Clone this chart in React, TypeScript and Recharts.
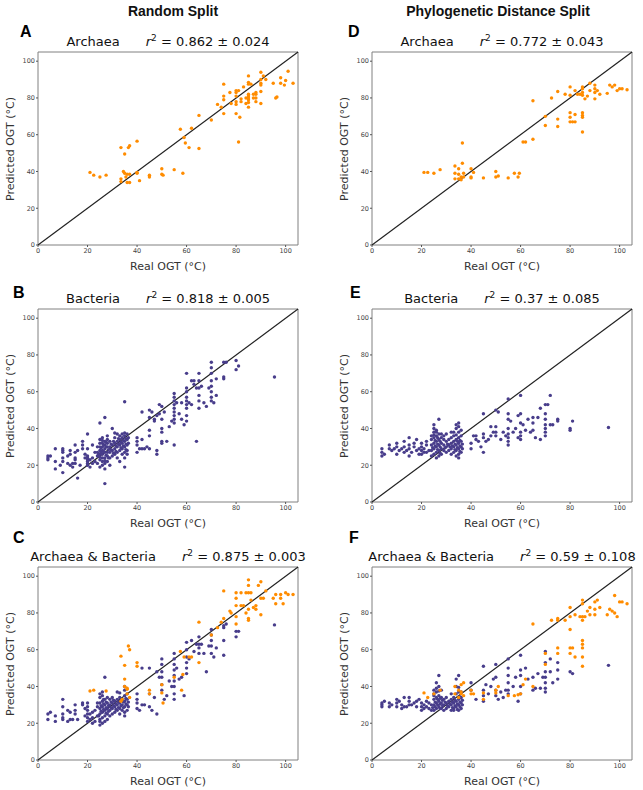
import React from "react";
import {
  ReferenceArea,
  ReferenceLine,
  Scatter,
  ScatterChart,
  XAxis,
  YAxis,
} from "recharts";

type Pt = [number, number];

const axisTicks = [0, 20, 40, 60, 80, 100];
const columnTitles = ["Random Split", "Phylogenetic Distance Split"];

const archaeaRandom: Pt[] = [
  [21, 39.5], [22.5, 38], [25, 37], [27.5, 38], [33.5, 53], [35, 49.5], [36.5, 53], [37, 54], [40, 56.5],
  [33.5, 36], [33.5, 34.5], [34.5, 40], [35, 39], [35.5, 37], [36, 38.5], [36, 34], [37, 38.5], [37, 34],
  [40, 39], [40, 39.5], [41, 35], [45, 37], [45, 38], [50, 41.5], [50, 38.5], [50.5, 38], [55, 41],
  [58.5, 39], [57.5, 63], [59, 58.5], [59.5, 55.5], [61, 53], [62, 63.5], [65, 70.5], [65, 52.5], [70, 68],
  [72.5, 76.5], [74, 75], [75, 87.5], [75, 81], [75, 79], [75, 71.5], [77.5, 83], [78, 77], [80, 84],
  [80, 83], [80, 81], [80, 78], [80, 76.5], [80, 71.5], [81, 84], [81.5, 69.5], [81, 56], [82, 79.5],
  [82, 78], [83, 86], [84, 77], [84, 80], [85, 92], [85, 88.5], [85, 87.5], [85, 82], [85, 81], [85, 80],
  [85, 79], [85, 77.5], [85, 75], [86, 87.5], [87, 82], [87, 80], [88, 83], [88, 82], [88, 80], [88, 78],
  [90, 94], [90, 90], [90, 88], [90, 87], [90, 83.5], [90, 77], [91, 92], [92, 90], [95, 88], [96, 80],
  [96.5, 80.5], [98, 91], [98, 88], [99.5, 87], [100, 89.5], [101, 94.5], [103, 88],
];

const archaeaPhylo: Pt[] = [
  [21, 39.5], [22.5, 39.5], [25, 39], [27.5, 41], [33.5, 43], [33.5, 39], [33.5, 36], [35, 41.5], [35, 38.5],
  [35, 36], [36, 37], [36, 35.5], [36.5, 44.5], [37, 39], [37, 37], [36.5, 55.5], [40, 41.5], [40, 37],
  [40, 36.5], [41, 39.5], [45, 36.5], [50, 40], [50, 37], [51, 37.5], [55, 36.5], [57.5, 39], [59, 37],
  [59.5, 39], [61, 56], [62, 56], [65, 78.5], [65, 57.5], [70, 70], [70, 65], [72.5, 80], [75, 83.5],
  [75, 68.5], [75, 64.5], [78, 82], [80, 86], [80, 81.5], [80, 72], [80, 69.5], [80, 67], [81, 67], [82, 84],
  [82, 71], [82, 67], [83, 82], [84, 82], [85, 86], [85, 85], [85, 83], [85, 81.5], [85, 72], [85, 70.5],
  [85, 69.5], [85, 61.5], [86, 79.5], [87, 81], [88, 88], [88, 84], [90, 87], [90, 85], [90, 83], [90, 79.5],
  [91, 84], [92, 82], [95, 82.5], [96, 87], [97, 86], [98, 87], [99, 84], [100, 85], [101, 85], [103, 84.5],
];

const bacteriaRandom: Pt[] = [
  [4, 24], [4, 25], [4, 23], [5, 25], [7, 18], [7, 29], [7, 22], [9, 20], [10, 22], [10, 24], [10, 27],
  [10, 28], [10, 29], [10, 16], [12, 21], [12, 25], [13, 20], [13, 26], [13, 28], [14, 21], [14, 19],
  [15, 21], [15, 24], [15, 27], [15, 31], [15, 23], [16, 13], [16, 28], [17, 20], [18, 31], [18, 33],
  [18, 29], [19, 24], [19, 26], [20, 20], [20, 21], [20, 22], [20, 23], [20, 24], [20, 25], [20, 29],
  [20, 37], [21, 23], [21, 19], [22, 21], [22, 24], [22, 31], [23, 27], [23, 22],
  [24, 25], [24, 27], [24, 30], [24, 21], [25, 19], [25, 23], [25, 26], [25, 28], [25, 30], [25, 32],
  [25, 34], [25, 43], [26, 20], [26, 22], [26, 24], [26, 26], [26, 28], [26, 30], [26, 32], [26, 35],
  [27, 18], [27, 21], [27, 24], [27, 27], [27, 29], [27, 31], [27, 33], [27, 46], [27, 10], [28, 22],
  [28, 25], [28, 27], [28, 30], [28, 32], [28, 34], [29, 24], [29, 27], [29, 30], [29, 33], [29, 20],
  [30, 25], [30, 28], [30, 31], [30, 40], [31, 26], [31, 29], [31, 32], [31, 35], [32, 24], [32, 27],
  [32, 30], [32, 33], [32, 37], [33, 28], [33, 31], [33, 34], [33, 22], [34, 26], [34, 29], [34, 32],
  [34, 35], [35, 27], [35, 30], [35, 33], [35, 36], [35, 19], [35, 24], [35, 54.5], [36, 28], [36, 31],
  [36, 34], [36, 37], [36, 26],
  [24.5, 26], [25.5, 27], [25.5, 29.5], [26.5, 31], [26.5, 27.5], [27.5, 25.5], [27.5, 30], [27.5, 32.5],
  [28.5, 28.5], [28.5, 24], [29.5, 31.5], [29.5, 28.5], [30.5, 26.5], [30.5, 33], [31.5, 30.5], [31.5, 27.5],
  [32.5, 31.5], [32.5, 34.5], [33.5, 29.5], [33.5, 32.5], [34.5, 30.5], [34.5, 33.5], [35.5, 31.5],
  [35.5, 34.5], [35.5, 28.5], [36.5, 32], [36.5, 35], [26, 33.5], [25, 24.5], [27, 22.5], [33, 36],
  [34, 37], [35, 37.5], [31, 37.5], [28, 36],
  [40, 31], [40, 33], [40, 35], [40, 27], [41, 29], [42, 34], [42, 29], [42, 49], [43, 29], [44, 30],
  [45, 50], [45, 46], [45, 39], [45, 36], [45, 29], [46, 49], [47, 44], [47, 45], [48, 47], [48, 28],
  [48, 26], [49, 53], [49, 48], [50, 52], [50, 45], [50, 40], [50, 38], [50, 33], [50, 32], [51, 49],
  [52, 33], [53, 41], [54, 44], [55, 59], [55, 57], [55, 55], [55, 53], [55, 51], [55, 49], [55, 47],
  [55, 45], [55, 43], [55, 31], [56, 54], [57, 48], [58, 54], [58, 45], [59, 42],
  [60, 70], [60, 62], [60, 60], [60, 57], [60, 55], [60, 53], [60, 51], [60, 47], [60, 44], [61, 54],
  [62, 66], [62, 53], [63, 64], [63, 66], [64, 33], [64, 62], [65, 70], [65, 66], [65, 62], [65, 58],
  [65, 55], [65, 51], [66, 63], [67, 54], [68, 52], [69, 62], [70, 76], [70, 73], [70, 70], [70, 66],
  [70, 63], [70, 60], [70, 57], [70, 55], [71, 54], [72, 58], [72, 67], [75, 76], [75, 68], [75, 67],
  [76, 76], [80, 77], [80, 72], [81, 74], [95.5, 68],
];

const bacteriaPhylo: Pt[] = [
  [4, 25], [4, 27], [4, 29], [5, 26], [7, 29], [7, 31], [8, 28], [9, 29], [10, 26], [10, 30], [10, 32],
  [11, 28], [12, 29], [13, 27], [13, 30], [13, 33], [14, 28], [15, 25], [15, 29], [15, 31], [15, 35],
  [16, 27], [17, 30], [17, 32], [18, 28], [18, 34], [19, 26], [19, 29], [20, 26], [20, 28], [20, 30],
  [20, 32], [21, 27], [21, 29], [22, 27], [22, 31], [22, 33], [23, 28],
  [24, 25], [24, 28], [24, 31], [24, 34], [25, 26], [25, 29], [25, 32], [25, 35], [25, 38], [25, 40],
  [25, 42], [26, 24], [26, 27], [26, 30], [26, 33], [26, 36], [26, 39], [27, 25], [27, 28], [27, 31],
  [27, 34], [27, 37], [27, 45], [28, 26], [28, 29], [28, 32], [28, 35], [29, 28], [29, 31], [29, 34],
  [30, 27], [30, 30], [30, 33], [30, 37], [31, 28], [31, 31], [31, 34], [32, 26], [32, 29], [32, 32],
  [32, 35], [33, 27], [33, 30], [33, 33], [33, 36], [34, 25], [34, 28], [34, 31], [34, 34], [34, 40],
  [34, 42], [35, 24], [35, 26], [35, 29], [35, 32], [35, 35], [35, 38], [35, 43], [36, 27], [36, 30],
  [36, 33], [36, 36],
  [24.5, 29.5], [25.5, 30.5], [25.5, 33.5], [26.5, 28.5], [26.5, 31.5], [26.5, 35], [27.5, 30], [27.5, 33],
  [27.5, 26.5], [25, 36.5], [26, 38], [24, 36], [28, 37], [32.5, 30.5], [33.5, 28.5], [33.5, 31.5],
  [34.5, 33], [34.5, 29.5], [35.5, 30.5], [35.5, 33.5], [35.5, 27.5], [36.5, 31.5], [36.5, 29], [33, 38],
  [34, 36.5], [36, 39], [35, 41], [32, 38], [29.5, 29.5], [30.5, 31.5], [31.5, 30], [29, 36],
  [40, 29], [40, 32], [41, 36], [42, 34], [42, 36], [43, 33], [44, 30], [45, 48], [45, 37], [45, 35],
  [45, 27], [46, 33], [47, 34], [48, 36], [48, 41], [49, 38], [50, 50], [50, 41], [50, 38], [50, 36],
  [51, 49], [52, 34], [53, 38], [54, 36], [55, 56], [55, 48], [55, 45], [55, 40], [55, 37], [55, 35],
  [55, 33], [55, 31], [56, 44], [57, 38], [58, 40], [59, 47], [59, 35], [60, 58], [60, 48], [60, 43],
  [60, 38], [60, 36], [60, 34], [61, 42], [62, 39], [63, 45], [64, 38], [65, 46], [65, 43], [65, 39],
  [66, 35], [67, 46], [68, 34], [68, 51], [70, 53], [70, 48], [70, 45], [70, 42], [70, 40], [70, 38],
  [70, 36], [71, 53], [72, 58], [72, 42], [73, 42], [75, 45], [75, 44], [80, 40], [80, 39], [81, 44],
  [95.5, 40.5],
];

const bothRandomBacteria: Pt[] = [
  [4, 25], [4, 22], [5, 26], [7, 21], [7, 24], [10, 29], [10, 25], [10, 23], [10, 22], [10, 33], [12, 27],
  [12, 21], [13, 22], [13, 26], [14, 22], [15, 25], [15, 27], [15, 30], [16, 22], [18, 31], [18, 30],
  [19, 28], [19, 24], [20, 21], [20, 23], [20, 25], [20, 27], [20, 29], [20, 31], [21, 25], [21, 22],
  [22, 20], [22, 23], [22, 26], [23, 21], [23, 27], [24, 24], [24, 29], [24, 31],
  [25, 19], [25, 22], [25, 25], [25, 28], [25, 31], [25, 34], [25, 36], [26, 20], [26, 23], [26, 26],
  [26, 29], [26, 32], [26, 35], [27, 21], [27, 24], [27, 27], [27, 30], [27, 33], [27, 45], [28, 22],
  [28, 25], [28, 28], [28, 31], [28, 34], [29, 24], [29, 27], [29, 30], [29, 33], [30, 25], [30, 28],
  [30, 31], [30, 34], [31, 26], [31, 29], [31, 32], [32, 27], [32, 30], [32, 33], [32, 37], [33, 25],
  [33, 28], [33, 31], [33, 34], [34, 27], [34, 30], [34, 33], [35, 24], [35, 26], [35, 29], [35, 32],
  [35, 35], [35, 38], [36, 27], [36, 30], [36, 33], [36, 36],
  [24.5, 24], [25.5, 26.5], [25.5, 29.5], [26.5, 27.5], [26.5, 30.5], [26.5, 33], [27.5, 25.5], [27.5, 28.5],
  [27.5, 31.5], [28.5, 26.5], [28.5, 29.5], [29.5, 28.5], [29.5, 31.5], [30.5, 29.5], [30.5, 32.5],
  [31.5, 30.5], [31.5, 27.5], [32.5, 31.5], [32.5, 28.5], [33.5, 29.5], [33.5, 32.5], [34.5, 31.5],
  [34.5, 28.5], [35.5, 30.5], [35.5, 33.5], [36.5, 31.5], [36.5, 29], [25, 21], [26, 37], [33, 36.5], [35, 40],
  [40, 36], [40, 33], [40, 31], [40, 28], [41, 27], [42, 30], [42, 50], [43, 30], [45, 50], [45, 36],
  [45, 29], [46, 27], [47, 34], [48, 48], [48, 25], [49, 45], [50, 55], [50, 52], [50, 48], [50, 45],
  [50, 41], [50, 38], [51, 33], [52, 35], [53, 43], [54, 40], [55, 58], [55, 55], [55, 52], [55, 49],
  [55, 46], [55, 43], [55, 40], [55, 36], [55, 33], [56, 50], [57, 44], [58, 45], [59, 35], [60, 64],
  [60, 60], [60, 56], [60, 53], [60, 50], [60, 47], [61, 55], [62, 65], [63, 59], [64, 63], [65, 67],
  [65, 63], [65, 61], [65, 58], [66, 63], [67, 58], [68, 48], [69, 62], [70, 71], [70, 68], [70, 65],
  [70, 62], [70, 58], [71, 56], [72, 61], [75, 73], [75, 72], [75, 65], [75, 57], [76, 74], [80, 70],
  [80, 67], [81, 70], [95.5, 73.5],
];

const bothRandomArchaea: Pt[] = [
  [21, 37.5], [22.5, 38], [27.5, 37.5], [33.5, 56.5], [35, 51.5], [36.5, 62], [37, 60], [40, 53], [40, 51],
  [35, 44], [35, 40], [36, 38.5], [36, 39], [36, 36], [37, 34], [34, 33], [33.5, 32], [45, 38], [45, 36],
  [50, 41], [50, 36.5], [50.5, 31], [55, 45], [58.5, 46.5], [58, 38], [57.5, 59], [59, 56], [61, 56],
  [62, 56], [65, 75], [65, 53], [70, 68], [72.5, 72], [74, 75], [75, 92], [75, 77], [77.5, 81], [78, 80],
  [80, 91], [80, 88], [80, 84], [80, 78], [80, 74], [82, 91], [82, 84], [83, 84], [84, 91], [84, 80],
  [85, 98], [85, 95], [85, 91], [85, 82], [85, 77], [85, 76], [86, 87], [86, 91], [87, 83], [88, 84],
  [88, 82], [89, 95], [90, 97], [90, 88], [90, 79], [91, 88], [92, 92], [95, 88], [96, 85], [96, 90],
  [98, 90], [98, 88], [99, 85], [100, 91], [101, 90], [103, 90],
];

const bothPhyloBacteria: Pt[] = [
  [4, 29], [4, 31], [4, 30], [5, 32], [7, 29], [7, 31], [8, 30], [10, 33], [10, 31], [10, 29], [11, 32],
  [12, 28], [12, 30], [13, 29], [13, 34], [14, 29], [15, 30], [15, 32], [15, 34], [16, 30], [17, 31],
  [18, 29], [18, 32], [19, 33], [20, 27], [20, 29], [20, 31], [21, 30], [21, 28], [22, 32], [22, 29],
  [23, 31], [23, 28], [24, 30], [24, 27],
  [25, 27], [25, 30], [25, 33], [25, 36], [25, 38], [26, 28], [26, 31], [26, 34], [26, 37], [26, 42],
  [27, 29], [27, 32], [27, 35], [27, 40], [27, 46], [28, 28], [28, 31], [28, 34], [28, 38], [29, 27],
  [29, 30], [29, 33], [30, 28], [30, 31], [30, 34], [31, 29], [31, 32], [32, 27], [32, 30], [32, 33],
  [32, 36], [33, 28], [33, 31], [33, 34], [34, 29], [34, 32], [34, 40], [34, 44], [35, 27], [35, 30],
  [35, 33], [35, 37], [35, 46], [36, 28], [36, 31], [36, 34],
  [24.5, 28.5], [25.5, 29], [25.5, 31.5], [26.5, 30], [26.5, 33], [27.5, 28], [27.5, 30.5], [27.5, 33.5],
  [25, 35], [26, 39], [27, 37.5], [28.5, 29.5], [28.5, 32.5], [29.5, 31.5], [30.5, 29.5], [31.5, 30.5],
  [32.5, 28.5], [32.5, 31.5], [33.5, 29.5], [33.5, 32.5], [34.5, 30.5], [34.5, 27.5], [35.5, 31.5],
  [35.5, 29], [35.5, 34.5], [36.5, 30], [36.5, 32.5], [34, 36], [35, 39.5], [36, 37], [33, 27],
  [40, 42], [40, 38], [42, 33], [45, 51], [45, 38], [45, 35], [45, 32], [46, 41], [47, 36], [48, 40],
  [49, 44], [50, 52], [50, 45], [50, 38], [50, 35], [51, 33], [52, 37], [53, 34], [54, 38], [55, 55],
  [55, 50], [55, 46], [55, 42], [55, 38], [55, 36], [57, 40], [58, 45], [59, 32], [60, 57], [60, 49],
  [60, 46], [60, 40], [60, 36], [62, 50], [63, 44], [65, 45], [65, 38], [66, 39], [67, 47], [68, 39],
  [69, 45], [70, 59], [70, 53], [70, 48], [70, 45], [70, 42], [70, 39], [70, 37], [72, 55], [72, 48],
  [73, 42], [75, 53], [75, 49], [75, 44], [80, 48], [81, 47], [95.5, 51.5],
];

const bothPhyloArchaea: Pt[] = [
  [21, 36.5], [22.5, 34], [25, 36], [27.5, 38], [33.5, 40], [33.5, 36], [35, 38], [35, 34], [36, 41],
  [36, 37], [36, 36], [37, 35], [37, 42], [40, 36], [40, 38], [41, 36], [45, 36.5], [45, 33], [50, 38],
  [50, 36.5], [51, 40], [55, 35], [57.5, 35], [59, 35.5], [60, 36], [61, 41], [62, 44], [65, 74], [65, 40],
  [70, 58], [70, 52], [72.5, 76], [75, 77], [75, 76], [75, 61], [75, 58], [78, 76], [80, 83], [80, 78],
  [80, 71], [80, 61], [80, 58], [81, 61], [82, 56], [82, 79], [84, 78], [85, 87], [85, 85], [85, 78],
  [85, 76], [85, 65], [85, 63], [85, 61], [85, 56], [85, 51], [86, 78], [87, 81], [88, 83], [88, 79],
  [90, 86], [90, 82], [90, 79], [91, 87], [92, 83], [95, 79], [96, 82], [97, 81], [98, 89.5], [98, 80],
  [99, 78], [100, 86], [101, 86], [103, 85],
];

const ORANGE = "#ff8c00";
const PURPLE = "#483d8b";
const PLOT_W = 260;
const PLOT_H = 193;

const toXY = (pts: Pt[]) => pts.map(([x, y]) => ({ x, y }));

const dot = (color: string) => (p: any) => (
  <circle cx={p.cx} cy={p.cy} r={1.7} fill={color} />
);

interface PanelProps {
  left: number;
  top: number;
  letter: string;
  letterX: number;
  letterY: number;
  name: string;
  r2: string;
  bacteria?: Pt[];
  archaea?: Pt[];
}

const tickStyle = { fontSize: 6.5, fill: "#444", fontFamily: "DejaVu Sans" };

function Panel({ left, top, letter, letterX, letterY, name, r2, bacteria, archaea }: PanelProps) {
  const cx = left + PLOT_W / 2;
  const cy = top + PLOT_H / 2;
  return (
    <>
      <div
        style={{
          position: "absolute",
          left: letterX,
          top: letterY - 2,
          fontFamily: "Liberation Sans",
          fontWeight: 700,
          fontSize: 16,
          lineHeight: "16px",
        }}
      >
        {letter}
      </div>
      <div
        style={{
          position: "absolute",
          left: cx,
          top: top - 10.5,
          transform: "translate(-50%, -50%)",
          display: "flex",
          gap: 26,
          whiteSpace: "pre",
          fontFamily: "DejaVu Sans",
          fontSize: 13,
          lineHeight: "13px",
          color: "#111",
        }}
      >
        <span>{name}</span>
        <span>
          <i>r</i>
          <span style={{ fontSize: 9, position: "relative", top: -5 }}>2</span> = {r2}
        </span>
      </div>
      <div style={{ position: "absolute", left: left - 38, top: top - 5 }}>
        <ScatterChart
          width={PLOT_W + 43}
          height={PLOT_H + 25}
          margin={{ top: 5, right: 5, bottom: 0, left: 0 }}
        >
          <XAxis
            type="number"
            dataKey="x"
            domain={[0, 105]}
            ticks={axisTicks}
            height={20}
            axisLine={false}
            tickSize={2}
            tickMargin={1}
            tickLine={{ stroke: "#555" }}
            tick={tickStyle}
          />
          <YAxis
            type="number"
            dataKey="y"
            domain={[0, 105]}
            ticks={axisTicks}
            width={38}
            axisLine={false}
            tickSize={2}
            tickMargin={1}
            tickLine={{ stroke: "#555" }}
            tick={tickStyle}
          />
          <ReferenceArea x1={0} x2={105} y1={0} y2={105} fill="none" stroke="#808080" strokeWidth={1} fillOpacity={0} />
          <ReferenceLine
            segment={[
              { x: 0, y: 0 },
              { x: 105, y: 105 },
            ]}
            stroke="#222"
            strokeWidth={1.2}
          />
          {bacteria && (
            <Scatter data={toXY(bacteria)} shape={dot(PURPLE)} isAnimationActive={false} />
          )}
          {archaea && (
            <Scatter data={toXY(archaea)} shape={dot(ORANGE)} isAnimationActive={false} />
          )}
        </ScatterChart>
      </div>
      <div
        style={{
          position: "absolute",
          left: cx,
          top: top + PLOT_H + 21,
          transform: "translate(-50%, -50%)",
          whiteSpace: "nowrap",
          fontFamily: "DejaVu Sans",
          fontSize: 11,
          lineHeight: "11px",
          color: "#333",
        }}
      >
        Real OGT (°C)
      </div>
      <div
        style={{
          position: "absolute",
          left: left - 28,
          top: cy,
          transform: "translate(-50%, -50%) rotate(-90deg)",
          whiteSpace: "nowrap",
          fontFamily: "DejaVu Sans",
          fontSize: 11,
          lineHeight: "11px",
          color: "#333",
        }}
      >
        Predicted OGT (°C)
      </div>
    </>
  );
}

export default function App() {
  const header = {
    position: "absolute" as const,
    top: 10.5,
    transform: "translate(-50%, -50%)",
    whiteSpace: "nowrap" as const,
    fontFamily: "Liberation Sans",
    fontWeight: 700,
    fontSize: 14,
    lineHeight: "14px",
    color: "#111",
  };
  return (
    <div
      style={{
        position: "absolute",
        left: 0,
        top: 0,
        width: 643,
        height: 790,
        background: "#fff",
        overflow: "hidden",
      }}
    >
      <div style={{ ...header, left: 173 }}>{columnTitles[0]}</div>
      <div style={{ ...header, left: 498 }}>{columnTitles[1]}</div>

      <Panel left={38} top={52} letter="A" letterX={20} letterY={26} name="Archaea" r2="0.862 ± 0.024" archaea={archaeaRandom} />
      <Panel left={38} top={309} letter="B" letterX={13} letterY={287} name="Bacteria" r2="0.818 ± 0.005" bacteria={bacteriaRandom} />
      <Panel left={38} top={567} letter="C" letterX={13} letterY={532} name="Archaea & Bacteria" r2="0.875 ± 0.003" bacteria={bothRandomBacteria} archaea={bothRandomArchaea} />

      <Panel left={372} top={52} letter="D" letterX={348} letterY={26} name="Archaea" r2="0.772 ± 0.043" archaea={archaeaPhylo} />
      <Panel left={372} top={309} letter="E" letterX={350} letterY={287} name="Bacteria" r2="0.37 ± 0.085" bacteria={bacteriaPhylo} />
      <Panel left={372} top={567} letter="F" letterX={349} letterY={532} name="Archaea & Bacteria" r2="0.59 ± 0.108" bacteria={bothPhyloBacteria} archaea={bothPhyloArchaea} />
    </div>
  );
}
